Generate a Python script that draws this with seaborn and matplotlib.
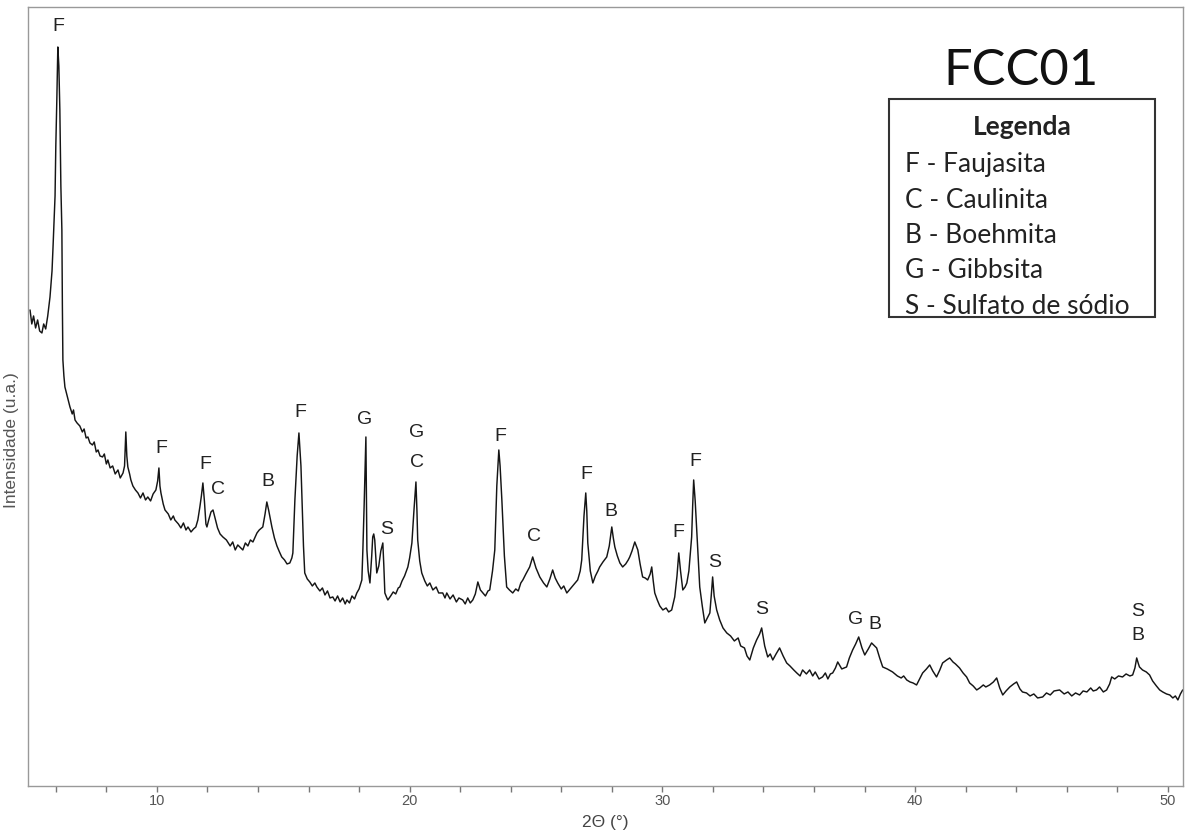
import numpy as np
import pandas as pd
import matplotlib
matplotlib.use("Agg")
import matplotlib.pyplot as plt
from matplotlib.patches import Rectangle
import seaborn as sns

# ---------------- data ----------------
two_theta = [
    4.98, 5.05, 5.12, 5.20, 5.28, 5.36, 5.45, 5.52, 5.60, 5.68, 5.77, 5.85, 5.89, 5.97, 6.00, 6.04, 6.08, 6.12,
    6.16, 6.20, 6.24, 6.26, 6.28, 6.32, 6.36, 6.45, 6.56, 6.65, 6.70, 6.76, 6.84, 6.95, 7.05, 7.12, 7.20, 7.27,
    7.35, 7.45, 7.52, 7.60, 7.67, 7.75, 7.85, 7.92, 8.00, 8.06, 8.15, 8.25, 8.35, 8.46, 8.55, 8.66, 8.72, 8.77,
    8.81, 8.85, 8.92, 8.97, 9.05, 9.15, 9.25, 9.35, 9.45, 9.55, 9.64, 9.75, 9.85, 9.96, 10.03, 10.08, 10.12, 10.16,
    10.25, 10.32, 10.45, 10.55, 10.65, 10.71, 10.85, 10.95, 11.05, 11.15, 11.23, 11.35, 11.45, 11.54, 11.62, 11.70,
    11.76, 11.82, 11.88, 11.94, 11.98, 12.05, 12.14, 12.22, 12.30, 12.40, 12.50, 12.61, 12.75, 12.90, 13.00, 13.10,
    13.20, 13.28, 13.40, 13.50, 13.60, 13.70, 13.80, 13.96, 14.05, 14.19, 14.28, 14.35, 14.42, 14.55, 14.65, 14.75,
    14.85, 14.94, 15.05, 15.15, 15.26, 15.34, 15.38, 15.46, 15.55, 15.62, 15.66, 15.70, 15.74, 15.80, 15.85, 15.95,
    16.05, 16.15, 16.25, 16.33, 16.45, 16.55, 16.65, 16.75, 16.85, 16.96, 17.05, 17.15, 17.25, 17.35, 17.45, 17.52,
    17.62, 17.72, 17.82, 17.91, 18.00, 18.11, 18.15, 18.20, 18.27, 18.31, 18.36, 18.43, 18.50, 18.54, 18.58, 18.62,
    18.70, 18.78, 18.86, 18.90, 18.94, 18.98, 19.02, 19.10, 19.14, 19.25, 19.35, 19.45, 19.55, 19.61, 19.70, 19.80,
    19.93, 20.00, 20.09, 20.17, 20.25, 20.29, 20.32, 20.40, 20.48, 20.60, 20.70, 20.80, 20.92, 21.05, 21.15, 21.31,
    21.40, 21.47, 21.60, 21.72, 21.85, 21.95, 22.10, 22.20, 22.30, 22.40, 22.50, 22.60, 22.70, 22.80, 22.90, 23.00,
    23.10, 23.17, 23.28, 23.37, 23.45, 23.53, 23.58, 23.65, 23.75, 23.84, 23.95, 24.08, 24.20, 24.30, 24.40, 24.48,
    24.60, 24.75, 24.87, 25.00, 25.15, 25.30, 25.43, 25.55, 25.66, 25.76, 25.86, 26.00, 26.10, 26.22, 26.35, 26.45,
    26.55, 26.65, 26.75, 26.81, 26.90, 26.97, 27.01, 27.05, 27.15, 27.25, 27.35, 27.45, 27.52, 27.65, 27.80, 27.90,
    28.00, 28.06, 28.12, 28.22, 28.32, 28.43, 28.55, 28.65, 28.71, 28.80, 28.91, 29.03, 29.12, 29.22, 29.32, 29.42,
    29.52, 29.58, 29.64, 29.70, 29.80, 29.90, 30.02, 30.15, 30.25, 30.37, 30.49, 30.58, 30.65, 30.72, 30.81, 30.90,
    30.97, 31.05, 31.16, 31.20, 31.24, 31.30, 31.36, 31.42, 31.48, 31.58, 31.68, 31.78, 31.88, 31.95, 31.99, 32.05,
    32.15, 32.27, 32.40, 32.55, 32.70, 32.85, 33.00, 33.10, 33.25, 33.35, 33.46, 33.60, 33.73, 33.85, 33.93, 34.05,
    34.17, 34.27, 34.37, 34.50, 34.64, 34.78, 34.92, 35.05, 35.20, 35.32, 35.45, 35.55, 35.70, 35.83, 35.95, 36.05,
    36.20, 36.34, 36.45, 36.55, 36.65, 36.74, 36.85, 36.94, 37.10, 37.29, 37.40, 37.53, 37.65, 37.77, 37.90, 38.01,
    38.15, 38.28, 38.40, 38.48, 38.60, 38.72, 38.90, 39.11, 39.30, 39.45, 39.55, 39.67, 39.80, 39.92, 40.06, 40.18,
    40.30, 40.45, 40.58, 40.70, 40.85, 40.98, 41.09, 41.25, 41.37, 41.50, 41.60, 41.76, 41.90, 42.04, 42.16, 42.30,
    42.44, 42.56, 42.70, 42.80, 42.95, 43.10, 43.23, 43.35, 43.47, 43.60, 43.75, 43.90, 44.02, 44.15, 44.25, 44.41,
    44.55, 44.70, 44.85, 45.05, 45.20, 45.35, 45.50, 45.72, 45.90, 46.05, 46.20, 46.35, 46.51, 46.65, 46.80, 46.95,
    47.05, 47.18, 47.30, 47.45, 47.58, 47.70, 47.78, 47.90, 48.05, 48.21, 48.35, 48.50, 48.61, 48.70, 48.77, 48.84,
    48.88, 49.00, 49.15, 49.28, 49.40, 49.55, 49.68, 49.80, 49.95, 50.08, 50.20, 50.30, 50.40, 50.50, 50.59,
]

intensity = [
    476, 462, 470, 458, 466, 455, 453, 462, 457, 470, 489, 515, 539, 590, 640, 686, 739, 720,
    676, 600, 556, 480, 426, 410, 399, 390, 379, 372, 376, 366, 363, 360, 354, 357, 348, 349,
    343, 341, 344, 334, 336, 330, 329, 332, 322, 326, 318, 320, 312, 316, 308, 313, 320, 354,
    330, 319, 312, 306, 300, 296, 293, 288, 293, 286, 289, 285, 292, 296, 305, 318, 300, 293,
    282, 276, 272, 266, 270, 266, 262, 258, 263, 256, 259, 254, 257, 259, 266, 279,
    290, 303, 285, 262, 259, 266, 274, 276, 268, 258, 252, 249, 246, 240, 244, 236,
    241, 239, 236, 243, 240, 246, 244, 253, 256, 259, 272, 284, 276, 259, 248, 240,
    234, 229, 226, 222, 223, 228, 233, 286, 330, 353, 336, 320, 289, 240, 213, 207,
    204, 200, 203, 199, 195, 198, 191, 195, 188, 189, 185, 190, 184, 188, 182, 186,
    183, 190, 187, 193, 197, 206, 236, 280, 349, 236, 215, 203, 230, 249, 252, 246,
    213, 220, 235, 239, 243, 220, 193, 188, 186, 190, 194, 192, 198, 199, 205, 210,
    219, 228, 243, 275, 304, 275, 246, 225, 213, 205, 200, 203, 196, 199, 193, 193,
    188, 193, 187, 191, 184, 188, 186, 182, 188, 183, 186, 192, 204, 196, 193, 190,
    195, 196, 215, 236, 300, 336, 320, 286, 230, 199, 196, 193, 197, 195, 203, 206,
    212, 219, 229, 218, 209, 203, 199, 207, 216, 208, 203, 197, 200, 193, 197, 200,
    203, 206, 215, 226, 270, 293, 275, 243, 215, 203, 210, 215, 219, 224, 229, 240,
    259, 248, 239, 230, 223, 219, 222, 226, 229, 235, 244, 236, 222, 209, 208, 206,
    212, 219, 205, 193, 186, 180, 176, 178, 174, 176, 189, 210, 233, 215, 196, 199,
    203, 215, 249, 280, 306, 285, 256, 225, 199, 180, 163, 168, 173, 195, 209, 190,
    176, 166, 158, 153, 150, 145, 148, 140, 138, 130, 126, 138, 146, 152, 158, 140,
    129, 132, 126, 132, 138, 130, 123, 120, 116, 113, 110, 116, 112, 116, 110, 114,
    107, 109, 113, 107, 112, 113, 118, 124, 117, 119, 128, 136, 142, 149, 138, 131,
    137, 143, 140, 138, 128, 119, 117, 114, 110, 108, 110, 106, 104, 103, 101, 107,
    113, 117, 121, 115, 109, 116, 123, 126, 128, 124, 122, 118, 113, 109, 103, 100,
    96, 98, 101, 99, 101, 104, 108, 98, 91, 95, 99, 102, 104, 97, 94, 93,
    90, 92, 88, 89, 93, 91, 95, 96, 92, 94, 90, 93, 91, 95, 94, 98,
    95, 96, 99, 94, 96, 102, 109, 107, 110, 109, 112, 110, 111, 118, 128, 122,
    119, 116, 114, 111, 105, 100, 96, 94, 92, 91, 88, 90, 86, 92, 96,
]

# peak labels: text, 2theta, intensity
peak_text = ["F", "F", "F", "C", "B", "F", "G", "S", "G", "C", "F", "C", "F", "B", "F", "F",
             "S", "S", "G", "B", "S", "B"]
peak_x = [6.08, 10.18, 11.90, 12.42, 14.39, 15.66, 18.23, 19.10, 20.28, 20.28, 23.57, 24.91,
          27.01, 27.98, 30.65, 31.30, 32.07, 33.93, 37.65, 38.42, 48.81, 48.81]
peak_y = [759, 337, 321, 296, 304, 373, 366, 256, 353, 323, 349, 249,
          311, 274, 253, 324, 223, 176, 166, 161, 174, 150]

legend_title = "Legenda"
legend_lines = ["F - Faujasita", "C - Caulinita", "B - Boehmita", "G - Gibbsita", "S - Sulfato de sódio"]
sample_name = "FCC01"
x_label = "2Θ (°)"
y_label = "Intensidade (u.a.)"
x_ticks = [10, 20, 30, 40, 50]

# ---------------- plot ----------------
sns.set_theme(style="white")
plt.rcParams['font.family'] = ['Liberation Sans', 'DejaVu Sans']

df = pd.DataFrame({"two_theta": two_theta, "intensity": intensity})

fig = plt.figure(figsize=(11.92, 8.31), dpi=100)
ax = fig.add_axes([0.0235, 0.0542, 0.9689, 0.9374])

sns.lineplot(data=df, x="two_theta", y="intensity", ax=ax, color="#151515",
             linewidth=1.05, sort=False, estimator=None)

ax.set_xlim(4.9, 50.6)
ax.set_ylim(0, 779)
ax.set_yticks([])
ax.set_xticks(x_ticks)
ax.set_xticks(np.arange(6, 51, 2), minor=True)
ax.set_xticklabels([str(t) for t in x_ticks], fontsize=10.5, color="#555555")
ax.tick_params(axis="x", which="both", direction="out", length=4, width=1,
               color="#777777", bottom=True, pad=2)

for sp in ax.spines.values():
    sp.set_color("#999999")
    sp.set_linewidth(1.0)

ax.set_xlabel(x_label, fontsize=12.5, color="#444444", labelpad=5)
ax.set_ylabel(y_label, fontsize=12.5, color="#555555")
ax.yaxis.set_label_coords(-0.0075, 0.444)

for t, x, y in zip(peak_text, peak_x, peak_y):
    ax.text(x, y, t, ha="center", va="center", fontsize=14, color="#222222")

# sample name
ax.text(0.8597, 0.8999, sample_name, transform=ax.transAxes, ha="center", va="baseline",
        fontsize=36.5, family="Lato", color="#111111")

# legend box
ax.add_patch(Rectangle((0.7454, 0.6020), 0.2303, 0.2798, transform=ax.transAxes,
                       fill=False, edgecolor="#333333", linewidth=1.5))
ax.text(0.8606, 0.8357, legend_title, transform=ax.transAxes, ha="center", va="baseline",
        fontsize=19, family="Lato", fontweight="bold", color="#222222")
ys = [0.7882, 0.7420, 0.6970, 0.6521, 0.6059]
for line, yy in zip(legend_lines, ys):
    ax.text(0.7593, yy, line, transform=ax.transAxes, ha="left", va="baseline",
            fontsize=19, family="Lato", color="#222222")

fig.savefig("out.png", dpi=100)
